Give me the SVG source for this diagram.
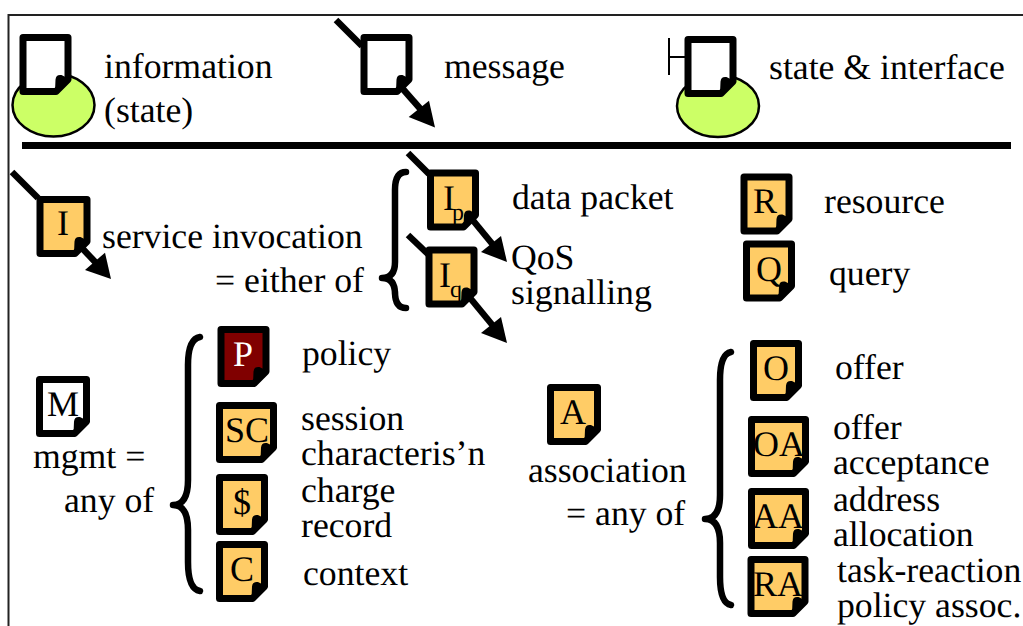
<svg xmlns="http://www.w3.org/2000/svg" width="1023" height="626" viewBox="0 0 1023 626">
<style>
text{font-family:"Liberation Serif","Times New Roman",serif;font-size:35.7px;fill:#000;text-rendering:geometricPrecision}
.l{text-anchor:middle;font-size:36px}
.s{font-size:24px}
.d{stroke:#000;stroke-width:7;stroke-linejoin:round}
.o{fill:#FFCC66}.w{fill:#fff}.m{fill:#800000}
.g{fill:#CCFF66;stroke:#000;stroke-width:2.5}
.c{fill:none;stroke:#000;stroke-width:6.5}
.b{fill:none;stroke:#000;stroke-width:6.5;stroke-linecap:round;stroke-linejoin:round}
.h{fill:#000}
</style>
<defs>
<path id="n" d="M0 0H45V42L33 54H0Z"/>
<path id="nm" d="M0 0H47V42L35 54H0Z"/>
<path id="nw" d="M0 0H54V42L42 54H0Z"/>
<path id="e" fill="#000" stroke="#000" stroke-width="2" stroke-linejoin="round" d="M33 54L33.500 42Q34 38 38 38.500L45 42Z"/>
<path id="em" fill="#000" stroke="#000" stroke-width="2" stroke-linejoin="round" d="M35 54L35.500 42Q36 38 40 38.500L47 42Z"/>
<path id="ew" fill="#000" stroke="#000" stroke-width="2" stroke-linejoin="round" d="M42 54L42.500 42Q43 38 47 38.500L54 42Z"/>
</defs>
<rect width="1023" height="626" fill="#fff"/>
<g id="frame" fill="none" stroke="#222" stroke-width="2"><path d="M1023 15H8.500V626"/></g>
<rect id="divider" x="22" y="142" width="989" height="7" fill="#000"/>

<g id="node-information">
<ellipse class="g" cx="53.500" cy="105" rx="41" ry="31.500"/>
<use href="#n" class="d w" transform="translate(23 37.500)"/><use href="#e" transform="translate(23 37.500)"/>
<text x="104" y="78">information</text><text x="104" y="122">(state)</text>
</g>
<g id="node-message">
<use href="#n" class="d w" transform="translate(364 37.500)"/><use href="#e" transform="translate(364 37.500)"/>
<text x="444" y="78">message</text>
</g>
<g id="node-state-interface">
<ellipse class="g" cx="718" cy="106" rx="41" ry="31"/>
<use href="#n" class="d w" transform="translate(688 39.500)"/><use href="#e" transform="translate(688 39.500)"/>
<text x="769" y="79">state &amp; interface</text>
</g>
<g id="node-I">
<use href="#nm" class="d o" transform="translate(40 199.500)"/>
<text class="l" x="63" y="235">I</text>
<use href="#em" transform="translate(40 199.500)"/>
<text x="102" y="248">service invocation</text><text x="364" y="292" text-anchor="end">= either of</text>
</g>
<g id="node-Ip">
<use href="#n" class="d o" transform="translate(430.500 173)"/>
<text x="443" y="210" style="font-size:36px">I</text><text class="s" x="452" y="220">p</text>
<use href="#e" transform="translate(431.500 173)"/>
<text x="512" y="209">data packet</text>
</g>
<g id="node-Iq">
<use href="#n" class="d o" transform="translate(429 250)"/>
<text x="439" y="287" style="font-size:36px">I</text><text class="s" x="450" y="297">q</text>
<use href="#e" transform="translate(429 250)"/>
<text x="511" y="269">QoS</text><text x="511" y="304">signalling</text>
</g>
<g id="node-R">
<use href="#n" class="d o" transform="translate(744 177)"/>
<text class="l" x="765" y="213">R</text>
<use href="#e" transform="translate(744 177)"/>
<text x="824" y="213">resource</text>
</g>
<g id="node-Q">
<use href="#n" class="d o" transform="translate(746.500 244)"/>
<text class="l" x="769" y="281">Q</text>
<use href="#e" transform="translate(746.500 244)"/>
<text x="829" y="285">query</text>
</g>
<g id="node-M">
<use href="#nm" class="d w" transform="translate(39.500 379.500)"/>
<text class="l" x="63" y="416">M</text>
<use href="#em" transform="translate(39.500 379.500)"/>
<text x="33" y="468">mgmt =</text><text x="64" y="512">any of</text>
</g>
<g id="node-P">
<use href="#n" class="d m" transform="translate(221 329.500)"/>
<text class="l" x="243" y="366" style="fill:#fff">P</text>
<use href="#e" transform="translate(221 329.500)"/>
<text x="302" y="365">policy</text>
</g>
<g id="node-SC">
<use href="#nw" class="d o" transform="translate(219.500 405.500)"/>
<text class="l" x="247" y="442">SC</text>
<use href="#ew" transform="translate(219.500 405.500)"/>
<text x="301" y="430">session</text><text x="301" y="465">characteris’n</text>
</g>
<g id="node-dollar">
<use href="#n" class="d o" transform="translate(219.500 477.500)"/>
<text class="l" x="242" y="514">$</text>
<use href="#e" transform="translate(219.500 477.500)"/>
<text x="301" y="502">charge</text><text x="301" y="537">record</text>
</g>
<g id="node-C">
<use href="#n" class="d o" transform="translate(219.500 544.500)"/>
<text class="l" x="242" y="581">C</text>
<use href="#e" transform="translate(219.500 544.500)"/>
<text x="303" y="585">context</text>
</g>
<g id="node-A">
<use href="#nm" class="d o" transform="translate(550.500 387.500)"/>
<text class="l" x="573" y="424">A</text>
<use href="#em" transform="translate(550.500 387.500)"/>
<text x="528" y="482">association</text><text x="566" y="525">= any of</text>
</g>
<g id="node-O">
<use href="#n" class="d o" transform="translate(753.500 343.500)"/>
<text class="l" x="776" y="380">O</text>
<use href="#e" transform="translate(753.500 343.500)"/>
<text x="835" y="379">offer</text>
</g>
<g id="node-OA">
<use href="#nw" class="d o" transform="translate(751.500 419.500)"/>
<text class="l" x="779" y="456">OA</text>
<use href="#ew" transform="translate(751.500 419.500)"/>
<text x="833" y="439">offer</text><text x="833" y="474">acceptance</text>
</g>
<g id="node-AA">
<use href="#nw" class="d o" transform="translate(751.500 491.500)"/>
<text class="l" x="778" y="528">AA</text>
<use href="#ew" transform="translate(751.500 491.500)"/>
<text x="833" y="511">address</text><text x="833" y="546">allocation</text>
</g>
<g id="node-RA">
<use href="#nw" class="d o" transform="translate(751 559.500)"/>
<text class="l" x="778" y="596">RA</text>
<use href="#ew" transform="translate(751 559.500)"/>
<text x="837" y="582">task-reaction</text><text x="837" y="617">policy assoc.</text>
</g>

<g id="connectors">
<path d="M669 38V75M669 57H686" fill="none" stroke="#000" stroke-width="2"/>
<path class="c" d="M336 20L362 46"/><path class="c" d="M402 88L424 113"/><path class="h" d="M435 127.500L408.700 117L429 100.700Z"/>
<path class="c" d="M12 172L38 198"/><path class="c" d="M81 247L98 265"/><path class="h" d="M111 279L85 270L105 252.700Z"/>
<path class="c" d="M408 153L429 174"/><path class="c" d="M471 218L494 246"/><path class="h" d="M507 262L481 252L501 236Z"/>
<path class="c" d="M408 235L429 255"/><path class="c" d="M466 293L494 327"/><path class="h" d="M507 343L481 333L501 317Z"/>
<path class="b" d="M406 172Q395 172 395 190V262Q395 278 382 278Q395 278 395 294V292Q395 308 406 308"/>
<path class="b" d="M200 337Q188 339 188 365V480Q188 505 173 505Q188 505 188 530V562Q188 589 200 591"/>
<path class="b" d="M731 352Q720 354 720 380V495Q720 519 705 519Q720 519 720 543V577Q720 603 731 605"/>
</g>
</svg>
